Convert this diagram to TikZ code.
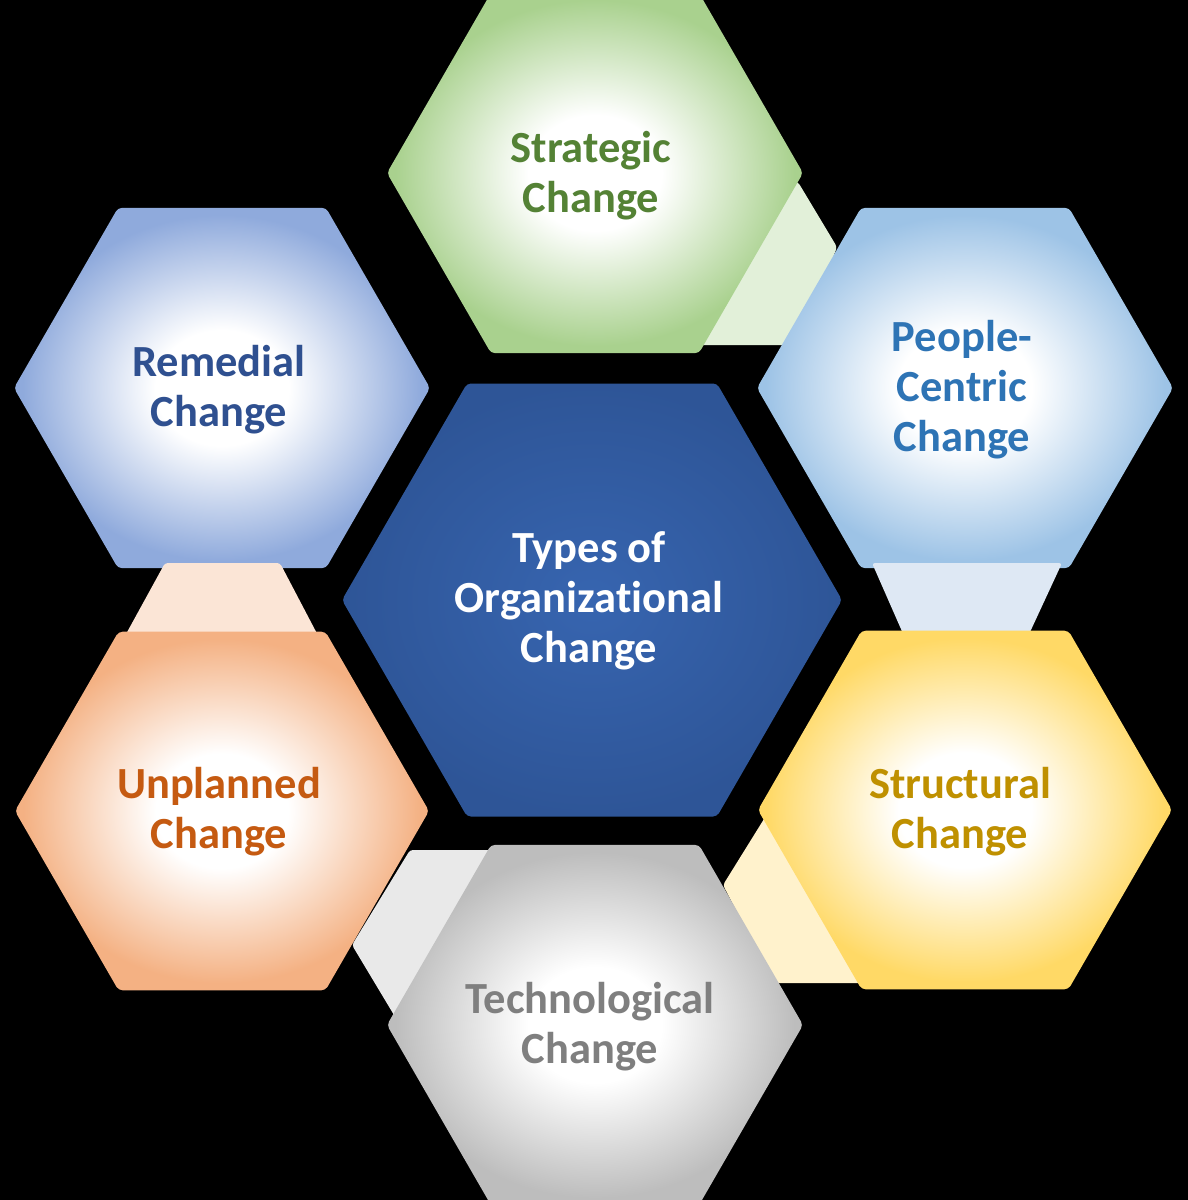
\documentclass[tikz,border=0pt]{standalone}
\usepackage{fontspec}
\setmainfont{Carlito}[Ligatures=NoCommon]
\definecolor{gEdge}{HTML}{A9D18E}
\definecolor{bEdge}{HTML}{8FAADC}
\definecolor{pEdge}{HTML}{9DC3E6}
\definecolor{oEdge}{HTML}{F4B183}
\definecolor{yEdge}{HTML}{FFD966}
\definecolor{tEdge}{HTML}{BDBDBD}
\definecolor{cIn}{HTML}{3765B0}
\definecolor{cOut}{HTML}{2E5597}
\definecolor{gConn}{HTML}{E2F0D9}
\definecolor{pConn}{HTML}{DEE8F4}
\definecolor{yConn}{HTML}{FFF2CC}
\definecolor{tConn}{HTML}{E9E9E9}
\definecolor{oConn}{HTML}{FBE5D6}
\definecolor{gText}{HTML}{548235}
\definecolor{bText}{HTML}{2F5090}
\definecolor{pText}{HTML}{2E74B5}
\definecolor{oText}{HTML}{C55A11}
\definecolor{yText}{HTML}{BF9000}
\definecolor{tText}{HTML}{7F7F7F}
\pgfdeclareradialshading{gshade}{\pgfpoint{0bp}{0bp}}{color(0bp)=(white); color(8bp)=(white); color(24bp)=(gEdge); color(50bp)=(gEdge)}
\pgfdeclareradialshading{bshade}{\pgfpoint{0bp}{0bp}}{color(0bp)=(white); color(8bp)=(white); color(24bp)=(bEdge); color(50bp)=(bEdge)}
\pgfdeclareradialshading{pshade}{\pgfpoint{0bp}{0bp}}{color(0bp)=(white); color(8bp)=(white); color(24bp)=(pEdge); color(50bp)=(pEdge)}
\pgfdeclareradialshading{oshade}{\pgfpoint{0bp}{0bp}}{color(0bp)=(white); color(8bp)=(white); color(24bp)=(oEdge); color(50bp)=(oEdge)}
\pgfdeclareradialshading{yshade}{\pgfpoint{0bp}{0bp}}{color(0bp)=(white); color(8bp)=(white); color(24bp)=(yEdge); color(50bp)=(yEdge)}
\pgfdeclareradialshading{tshade}{\pgfpoint{0bp}{0bp}}{color(0bp)=(white); color(8bp)=(white); color(24bp)=(tEdge); color(50bp)=(tEdge)}
\pgfdeclareradialshading{cshade}{\pgfpoint{0bp}{0bp}}{color(0bp)=(cIn); color(25bp)=(cOut); color(50bp)=(cOut)}
\newcommand\hexshape[3]{({#1-#3},{#2}) -- ({#1-#3/2},{#2-0.866*#3}) -- ({#1+#3/2},{#2-0.866*#3}) -- ({#1+#3},{#2}) -- ({#1+#3/2},{#2+0.866*#3}) -- ({#1-#3/2},{#2+0.866*#3}) -- cycle}
\tikzset{
  hexbox/.style={rounded corners=4pt},
  connbox/.style={rounded corners=3pt},
  lbl/.style={font=\fontsize{44.5}{50}\selectfont\bfseries, align=center, inner sep=0pt}
}
\begin{document}
\begin{tikzpicture}[x=1pt,y=-1pt]
\useasboundingbox (0,0) rectangle (1188,1200);
\clip (0,0) rectangle (1188,1200);
\fill[black] (0,0) rectangle (1188,1200);
% connectors lying behind
\fill[gConn, connbox] (798,182) -- (837,247) -- (800,345) -- (690,345) -- (750,182) -- cycle;
\fill[yConn, connbox] (723,885) -- (782,790) -- (900,790) -- (900,983) -- (774,983) -- cycle;
\fill[tConn, connbox] (352,945) -- (410,850) -- (540,850) -- (540,1000) -- (400,1025) -- cycle;
% upper hexagons
\path[shading=gshade, hexbox] \hexshape{595}{173}{208};
\path[shading=bshade, hexbox] \hexshape{222}{388}{208};
\path[shading=pshade, hexbox] \hexshape{965}{388}{208};
% connectors on top of upper hexagons
\fill[oConn, connbox] (165,563) -- (280,563) -- (323,645) -- (120,645) -- cycle;
\fill[pConn, connbox] (872,563) -- (1062,563) -- (1024,645) -- (908,645) -- cycle;
% lower hexagons
\path[shading=oshade, hexbox] \hexshape{222}{811}{207};
\path[shading=yshade, hexbox] \hexshape{965}{810}{207};
\path[shading=tshade, hexbox] \hexshape{595}{1025}{208};
\path[shading=cshade, hexbox] \hexshape{592}{600}{250};
% labels
\node[lbl, text=gText] (strategic) at (591,176) {Strategic\\Change};
\node[lbl, text=bText] (remedial) at (219,390) {Remedial\\Change};
\node[lbl, text=pText] (people) at (962,390) {People-\\Centric\\Change};
\node[lbl, text=white] (types) at (589,601) {Types of\\Organizational\\Change};
\node[lbl, text=oText] (unplanned) at (219,812) {Unplanned\\Change};
\node[lbl, text=yText] (structural) at (960,812) {Structural\\Change};
\node[lbl, text=tText] (tech) at (590,1027) {Technological\\Change};
\end{tikzpicture}
\end{document}
